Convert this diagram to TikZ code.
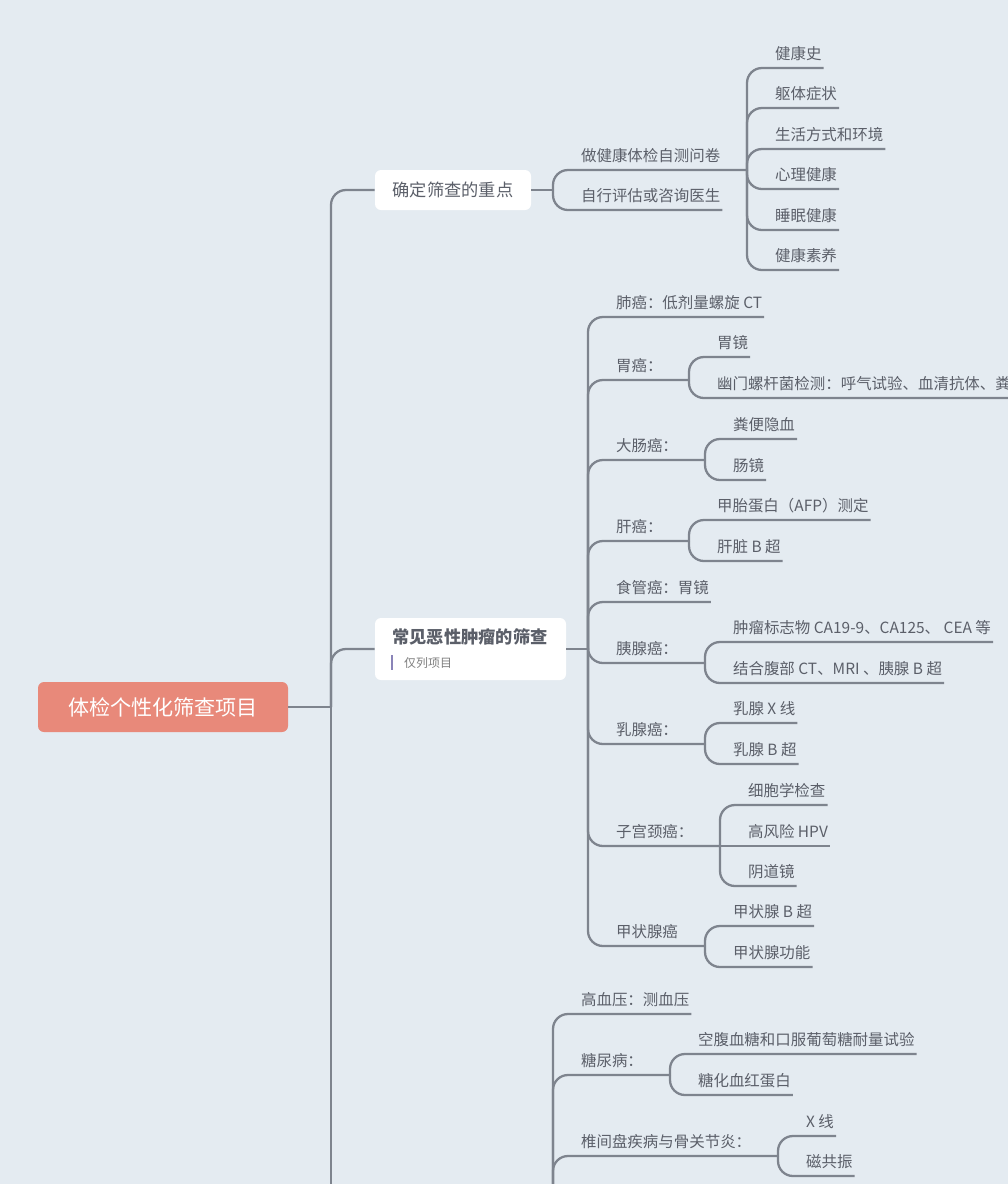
\documentclass[tikz,border=0pt]{standalone}
\usepackage{fontspec}
\setmainfont{Noto Sans CJK SC}
\definecolor{bgc}{HTML}{E4EBF1}
\definecolor{linec}{HTML}{7E848E}
\definecolor{textc}{HTML}{5B5F69}
\definecolor{rootc}{HTML}{E8897A}
\definecolor{notec}{HTML}{8A84B8}
\tikzset{
  conn/.style={draw=linec, line width=1.3pt, rounded corners=3mm},
  leaf/.style={anchor=south west, inner xsep=1pt, inner ysep=4pt, text=textc,
    font=\fontsize{8.8pt}{10pt}\selectfont},
  topic/.style={fill=white, rounded corners=1.2mm, text=textc, inner sep=0pt}
}
\begin{document}
\begin{tikzpicture}[x=0.02cm, y=-0.02cm]
\fill[bgc] (0,0) rectangle (1008,1184);
\useasboundingbox (0,0) rectangle (1008,1184);
\clip (0,0) rectangle (1008,1184);
% root and main topics
\node[fill=rootc, rounded corners=1.2mm, text=white, minimum width=250*0.02cm, minimum height=50*0.02cm,
  font=\fontsize{12pt}{14pt}\selectfont] (root) at (163,707) {体检个性化筛查项目};
\node[topic, minimum width=156*0.02cm, minimum height=40*0.02cm,
  font=\fontsize{9.8pt}{12pt}\selectfont] (focus) at (453,190) {确定筛查的重点};
\node[topic, minimum width=191*0.02cm, minimum height=62*0.02cm] (tumor) at (470.5,649) {};
\node[text=textc, font=\bfseries\fontsize{9.8pt}{12pt}\selectfont] (tumort) at (470,637) {常见恶性肿瘤的筛查};
\node[text=gray, anchor=west, font=\fontsize{6.8pt}{8pt}\selectfont] (note) at (398,663) {仅列项目};
\draw[notec, line width=1.3pt] (392,655) -- (392,670);
\coordinate (trunk) at (331,707);
\draw[conn] (root.east) -- (trunk);
\draw[conn] (trunk) |- (focus.west);
\draw[conn] (trunk) |- (tumor.west);
\draw[conn] (trunk) -- (331,1200);
% focus branch
\coordinate (j1) at (553,190);
\coordinate (j11) at (747,170);
\draw[conn] (focus.east) -- (j1);
\node[leaf] (q1) at (579,170) {做健康体检自测问卷};
\node[leaf] (q2) at (579,210) {自行评估或咨询医生};
\draw[conn] (j1) |- (j11);
\draw[conn] (j1) |- (q2.south east);
\foreach \y/\t/\n in {68/健康史/h1, 108/躯体症状/h2, 149/生活方式和环境/h3,
  189/心理健康/h4, 230/睡眠健康/h5, 270/健康素养/h6}
  {\node[leaf] (\n) at (773,\y) {\t};
   \draw[conn] (j11) |- (\n.south east);}
% tumor branch
\coordinate (j2) at (588,649);
\draw[conn] (tumor.east) -- (j2);
\node[leaf] (a1) at (614,317) {肺癌：低剂量螺旋 CT};
\draw[conn] (j2) |- (a1.south east);
\node[leaf] (a2) at (614,380) {胃癌：};
\coordinate (ja2) at (689,380);
\draw[conn] (j2) |- (ja2);
\node[leaf] (b21) at (715,357) {胃镜};
\node[leaf] (b22) at (715,398) {幽门螺杆菌检测：呼气试验、血清抗体、粪便抗原};
\draw[conn] (ja2) |- (b21.south east);
\draw[conn] (ja2) |- (b22.south east);
\node[leaf] (a3) at (614,460) {大肠癌：};
\coordinate (ja3) at (705,460);
\draw[conn] (j2) |- (ja3);
\node[leaf] (b31) at (731,439) {粪便隐血};
\node[leaf] (b32) at (731,480) {肠镜};
\draw[conn] (ja3) |- (b31.south east);
\draw[conn] (ja3) |- (b32.south east);
\node[leaf] (a4) at (614,541) {肝癌：};
\coordinate (ja4) at (689,541);
\draw[conn] (j2) |- (ja4);
\node[leaf] (b41) at (715,520) {甲胎蛋白（AFP）测定};
\node[leaf] (b42) at (715,561) {肝脏 B 超};
\draw[conn] (ja4) |- (b41.south east);
\draw[conn] (ja4) |- (b42.south east);
\node[leaf] (a5) at (614,602) {食管癌：胃镜};
\draw[conn] (j2) |- (a5.south east);
\node[leaf] (a6) at (614,663) {胰腺癌：};
\coordinate (ja6) at (705,663);
\draw[conn] (j2) |- (ja6);
\node[leaf] (b61) at (731,642) {肿瘤标志物 CA19-9、CA125、 CEA 等};
\node[leaf] (b62) at (731,683) {结合腹部 CT、MRI 、胰腺 B 超};
\draw[conn] (ja6) |- (b61.south east);
\draw[conn] (ja6) |- (b62.south east);
\node[leaf] (a7) at (614,744) {乳腺癌：};
\coordinate (ja7) at (705,744);
\draw[conn] (j2) |- (ja7);
\node[leaf] (b71) at (731,723) {乳腺 X 线};
\node[leaf] (b72) at (731,764) {乳腺 B 超};
\draw[conn] (ja7) |- (b71.south east);
\draw[conn] (ja7) |- (b72.south east);
\node[leaf] (a8) at (614,846) {子宫颈癌：};
\coordinate (ja8) at (720,846);
\draw[conn] (j2) |- (ja8);
\node[leaf] (b81) at (746,805) {细胞学检查};
\node[leaf] (b82) at (746,846) {高风险 HPV};
\node[leaf] (b83) at (746,886) {阴道镜};
\draw[conn] (ja8) |- (b81.south east);
\draw[conn] (ja8) -- (b82.south east);
\draw[conn] (ja8) |- (b83.south east);
\node[leaf] (a9) at (614,946) {甲状腺癌};
\coordinate (ja9) at (705,946);
\draw[conn] (j2) |- (ja9);
\node[leaf] (b91) at (731,926) {甲状腺 B 超};
\node[leaf] (b92) at (731,967) {甲状腺功能};
\draw[conn] (ja9) |- (b91.south east);
\draw[conn] (ja9) |- (b92.south east);
% third branch (topic below page)
\coordinate (j3) at (553,1250);
\node[leaf] (c1) at (579,1014) {高血压：测血压};
\draw[conn] (j3) |- (c1.south east);
\node[leaf] (c2) at (579,1075) {糖尿病：};
\coordinate (jc2) at (670,1075);
\draw[conn] (j3) |- (jc2);
\node[leaf] (d21) at (696,1054) {空腹血糖和口服葡萄糖耐量试验};
\node[leaf] (d22) at (696,1095) {糖化血红蛋白};
\draw[conn] (jc2) |- (d21.south east);
\draw[conn] (jc2) |- (d22.south east);
\node[leaf] (c3) at (579,1156) {椎间盘疾病与骨关节炎：};
\coordinate (jc3) at (778,1156);
\draw[conn] (j3) |- (jc3);
\node[leaf] (d31) at (804,1136) {X 线};
\node[leaf] (d32) at (804,1176) {磁共振};
\draw[conn] (jc3) |- (d31.south east);
\draw[conn] (jc3) |- (d32.south east);
\end{tikzpicture}
\end{document}
